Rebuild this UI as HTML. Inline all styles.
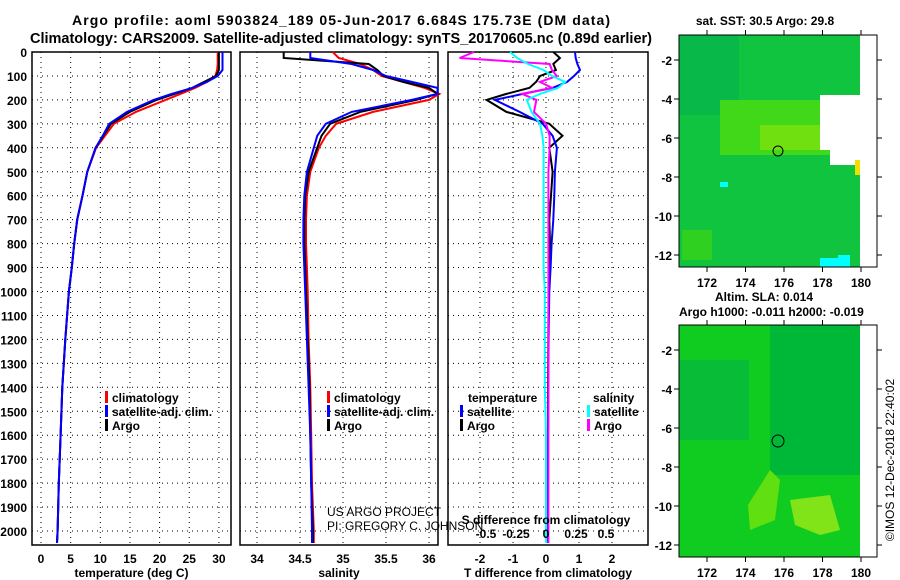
<!DOCTYPE html>
<html><head><meta charset="utf-8"><style>
html,body{margin:0;padding:0;background:#fff;}
svg{display:block;font-family:"Liberation Sans",sans-serif;font-weight:bold;}
</style></head><body>
<svg id="s" width="900" height="580" viewBox="0 0 900 580" xmlns="http://www.w3.org/2000/svg">
<rect width="900" height="580" fill="#fff"/>
<text x="72" y="25" font-size="14" textLength="538" lengthAdjust="spacing">Argo profile: aoml 5903824_189 05-Jun-2017 6.684S 175.73E (DM data)</text>
<text x="30" y="43" font-size="14.5" textLength="622" lengthAdjust="spacingAndGlyphs">Climatology: CARS2009. Satellite-adjusted climatology: synTS_20170605.nc (0.89d earlier)</text>
<g id="maps">
 <g>
  <rect x="679" y="35" width="183" height="232" fill="#10c440"/>
  <rect x="679" y="35" width="60" height="80" fill="#08b848"/>
  <rect x="720" y="100" width="120" height="55" fill="#40d818"/>
  <rect x="760" y="125" width="60" height="25" fill="#70e010"/>
  <rect x="682" y="230" width="30" height="30" fill="#30d020"/>
  <rect x="820" y="95" width="42" height="55" fill="#fff"/>
  <rect x="830" y="150" width="32" height="15" fill="#fff"/>
  <rect x="855" y="160" width="7" height="15" fill="#f0e000"/>
  <rect x="820" y="235" width="30" height="32" fill="#10c440"/>
  <rect x="820" y="258" width="22" height="9" fill="#00ffff"/>
  <rect x="838" y="255" width="12" height="12" fill="#00ffff"/>
  <rect x="720" y="182" width="8" height="5" fill="#00ffff"/>
  <rect x="860" y="35" width="17" height="232" fill="#fff"/>
  <circle cx="778" cy="151" r="5" fill="none" stroke="#000" stroke-width="1"/>
  <rect x="679" y="35" width="198" height="232" fill="none" stroke="#000"/>
  <text x="765" y="25" font-size="12" text-anchor="middle">sat. SST: 30.5 Argo: 29.8</text>
 </g>
 <g>
  <rect x="679" y="325" width="183" height="232" fill="#10cc20"/>
  <rect x="770" y="325" width="92" height="150" fill="#00b838"/>
  <rect x="679" y="360" width="70" height="80" fill="#08bc38"/>
  <path d="M748 505 L770 470 L780 480 L775 520 L750 530 Z" fill="#60e010"/>
  <path d="M790 500 L830 495 L840 530 L820 535 L795 525 Z" fill="#80e418"/>
  <rect x="860" y="325" width="17" height="232" fill="#fff"/>
  <circle cx="778" cy="441" r="6" fill="none" stroke="#000" stroke-width="1"/>
  <rect x="679" y="325" width="198" height="232" fill="none" stroke="#000"/>
  <text x="715" y="301" font-size="12">Altim. SLA: 0.014</text>
  <text x="679" y="316" font-size="12">Argo h1000: -0.011 h2000: -0.019</text>
 </g>
 <text transform="translate(894,460) rotate(-90)" font-size="12" font-weight="normal" text-anchor="middle">©IMOS 12-Dec-2018 22:40:02</text>
</g>
<g id="plots"></g>
</svg>
<script>
const NS='http://www.w3.org/2000/svg';
const svg=document.getElementById('s');
const P=document.getElementById('plots');
const depths=[0,25,50,75,100,125,150,175,200,250,300,350,400,500,600,700,800,900,1000,1200,1400,1600,1800,2000,2050];
const tempArgo=[30,30,30,30,29.5,27.5,25.5,22.5,19.5,15,11.8,10.5,9.2,7.8,7,6.1,5.6,5.2,4.7,4.1,3.6,3.3,3,2.8,2.7];
const tempClim=[29.8,29.8,29.8,29.7,29.4,28,26,23.5,21,16,12.3,10.8,9.3,7.8,7,6.1,5.6,5.2,4.7,4.1,3.6,3.3,3,2.8,2.7];
const tempSat=[30.6,30.6,30.6,30.6,29.8,28,25.5,22,19,14.5,11.5,10.4,9.2,7.8,7,6.1,5.6,5.2,4.7,4.1,3.6,3.3,3,2.8,2.7];
const salArgo=[34.31,34.31,35.3,35.4,35.47,35.7,36.0,36.1,35.85,35.2,34.85,34.75,34.7,34.6,34.56,34.55,34.55,34.56,34.57,34.59,34.61,34.62,34.63,34.65,34.65];
const salClim=[34.88,34.95,35.2,35.35,35.45,35.7,35.95,36.12,36.0,35.35,34.92,34.8,34.72,34.62,34.58,34.57,34.57,34.58,34.59,34.6,34.62,34.63,34.64,34.66,34.66];
const salSat=[34.62,34.62,35.1,35.35,35.5,35.8,36.1,36.1,35.8,35.1,34.8,34.7,34.66,34.58,34.55,34.54,34.54,34.55,34.56,34.58,34.6,34.62,34.63,34.64,34.64];
const dTSat=[0.88,0.9,0.95,1.03,0.85,0.64,0.2,-0.7,-1.55,-0.8,-0.1,0.2,0.33,0.27,0.25,0.22,0.17,0.14,0.1,0.08,0.07,0.06,0.05,0.05,0.05];
const dTArgo=[0.22,0.42,0.22,0.3,-0.18,-0.3,-0.5,-1.2,-1.8,-1.2,0.1,0.5,0.1,0.2,0.15,0.1,0.12,0.1,0.08,0.07,0.06,0.06,0.05,0.05,0.05];
const dSArgo=[-0.6,-0.72,0.03,0.05,0.09,-0.05,0.05,-0.2,-0.08,-0.1,0.0,0.03,0.03,0.02,0.02,0.02,0.02,0.02,0.02,0.02,0.02,0.02,0.02,0.02,0.02];
const dSSat=[-0.3,-0.24,-0.15,-0.02,0.05,0.16,0.1,-0.05,-0.16,-0.12,-0.05,-0.03,-0.02,-0.02,-0.02,-0.02,-0.02,-0.02,-0.01,-0.01,-0.01,0,0,0,0];
const depthTicks=[0,100,200,300,400,500,600,700,800,900,1000,1100,1200,1300,1400,1500,1600,1700,1800,1900,2000];
const tempTicks=[0,5,10,15,20,25,30];
const salTicks=[34,34.5,35,35.5,36];
const tdTicks=[-2,-1,0,1,2];
const sdTicks=[-0.5,-0.25,0,0.25,0.5];
const sdTickLabels=['-0.5','-0.25','0','0.25','0.5'];

const Y0=52,YB=545;
const yS=d=>Y0+d*0.2395;
function el(t,a,par){const e=document.createElementNS(NS,t);for(const k in a)e.setAttribute(k,a[k]);(par||P).appendChild(e);return e;}
const panels=[
 {x0:32,x1:231,sc:v=>41+v*5.93,ticks:tempTicks,title:'temperature (deg C)',name:'temperature-panel'},
 {x0:240,x1:438,sc:v=>300+(v-34.5)*86,ticks:salTicks,title:'salinity',name:'salinity-panel'},
 {x0:448,x1:648,sc:v=>546+v*33,ticks:tdTicks,title:'T difference from climatology',name:'difference-panel'}
];
const sdS=v=>546+v*120;
panels.forEach((p,i)=>{
 const g=el('g',{});
 
 
 depthTicks.forEach(d=>{const y=yS(d);
  const l=el('line',{x1:p.x0,x2:p.x1,y1:y,y2:y,stroke:'#000','stroke-width':1,'stroke-dasharray':'1,4'},g);
  
  
  if(i==0){const t=el('text',{x:27,y:y+5,'font-size':12,'text-anchor':'end'},g);t.textContent=d;
   
   }
 });
 p.ticks.forEach(v=>{const x=p.sc(v);
  el('line',{x1:x,x2:x,y1:Y0,y2:YB,stroke:'#000','stroke-width':1,'stroke-dasharray':'1,4'},g);
  const t=el('text',{x:x,y:563,'font-size':12,'text-anchor':'middle'},g);t.textContent=v;
  
  
 });
 const r=el('rect',{x:p.x0,y:Y0,width:p.x1-p.x0,height:YB-Y0,fill:'none',stroke:'#000','stroke-width':1.5},g);
 
 
 const tt=el('text',{x:(p.x0+p.x1)/2,y:577,'font-size':12,'text-anchor':'middle'},g);tt.textContent=p.title;
 
 
});
function line(vals,sc,color,name){
 const pts=vals.map((v,i)=>sc(v).toFixed(1)+','+yS(depths[i]).toFixed(1)).join(' ');
 const e=el('polyline',{points:pts,fill:'none',stroke:color,'stroke-width':2});
 
 
}
line(tempClim,panels[0].sc,'#f00','temp-climatology-line');
line(tempArgo,panels[0].sc,'#000','temp-argo-line');
line(tempSat,panels[0].sc,'#00f','temp-satellite-line');
line(salClim,panels[1].sc,'#f00','sal-climatology-line');
line(salArgo,panels[1].sc,'#000','sal-argo-line');
line(salSat,panels[1].sc,'#00f','sal-satellite-line');
line(dTArgo,panels[2].sc,'#000','tdiff-argo-line');
line(dTSat,panels[2].sc,'#00f','tdiff-satellite-line');
line(dSArgo,sdS,'#f0f','sdiff-argo-line');
line(dSSat,sdS,'#0ff','sdiff-satellite-line');
const sg=el('g',{});


sdTicks.forEach((v,i)=>{const t=el('text',{x:sdS(v),y:538,'font-size':12,'text-anchor':'middle'},sg);t.textContent=sdTickLabels[i];
 
 });
const st=el('text',{x:546,y:524,'font-size':12,'text-anchor':'middle'},sg);st.textContent='S difference from climatology';


function leg(x,y,color,label,name){
 const g=el('g',{});
 
 
 if(color)el('rect',{x:x,y:y-10,width:3,height:12,fill:color},g);
 const t=el('text',{x:x+(color?7:0),y:y+1,'font-size':12},g);t.textContent=label;
}
leg(105,401,'#f00','climatology','legend-climatology');
leg(105,415,'#00f','satellite-adj. clim.','legend-satellite-adj');
leg(105,429,'#000','Argo','legend-argo');
leg(327,401,'#f00','climatology','legend-sal-climatology');
leg(327,415,'#00f','satellite-adj. clim.','legend-sal-satellite-adj');
leg(327,429,'#000','Argo','legend-sal-argo');
leg(468,401,null,'temperature','legend-temperature-heading');
leg(460,415,'#00f','satellite','legend-tdiff-satellite');
leg(460,429,'#000','Argo','legend-tdiff-argo');
leg(593,401,null,'salinity','legend-salinity-heading');
leg(587,415,'#0ff','satellite','legend-sdiff-satellite');
leg(587,429,'#f0f','Argo','legend-sdiff-argo');
const c1=el('text',{x:327,y:516,'font-size':12,'font-weight':'normal'});c1.textContent='US ARGO PROJECT';


const c2=el('text',{x:327,y:530,'font-size':12,'font-weight':'normal'});c2.textContent='PI: GREGORY C. JOHNSON';


const lonTicks=[172,174,176,178,180];
const latTicks=[-2,-4,-6,-8,-10,-12];
const maps=[{y0:35,y1:267,latY:v=>60+(-2-v)*19.5,name:'sst-map-axes'},{y0:325,y1:557,latY:v=>350+(-2-v)*19.5,name:'sla-map-axes'}];
const mg=document.getElementById('maps');
maps.forEach(m=>{
 const g=el('g',{},mg);
 
 
 lonTicks.forEach(v=>{const x=707+(v-172)*19.25;
  el('line',{x1:x,x2:x,y1:m.y0-5,y2:m.y0,stroke:'#000'},g);
  el('line',{x1:x,x2:x,y1:m.y1,y2:m.y1+5,stroke:'#000'},g);
  const t=el('text',{x:x,y:m.y1+20,'font-size':12,'text-anchor':'middle'},g);t.textContent=v;
  
  });
 latTicks.forEach(v=>{const y=m.latY(v);
  el('line',{x1:674,x2:679,y1:y,y2:y,stroke:'#000'},g);
  el('line',{x1:877,x2:882,y1:y,y2:y,stroke:'#000'},g);
  const t=el('text',{x:672,y:y+5,'font-size':12,'text-anchor':'end'},g);t.textContent=v;
  
  });
});
</script>
</body></html>
